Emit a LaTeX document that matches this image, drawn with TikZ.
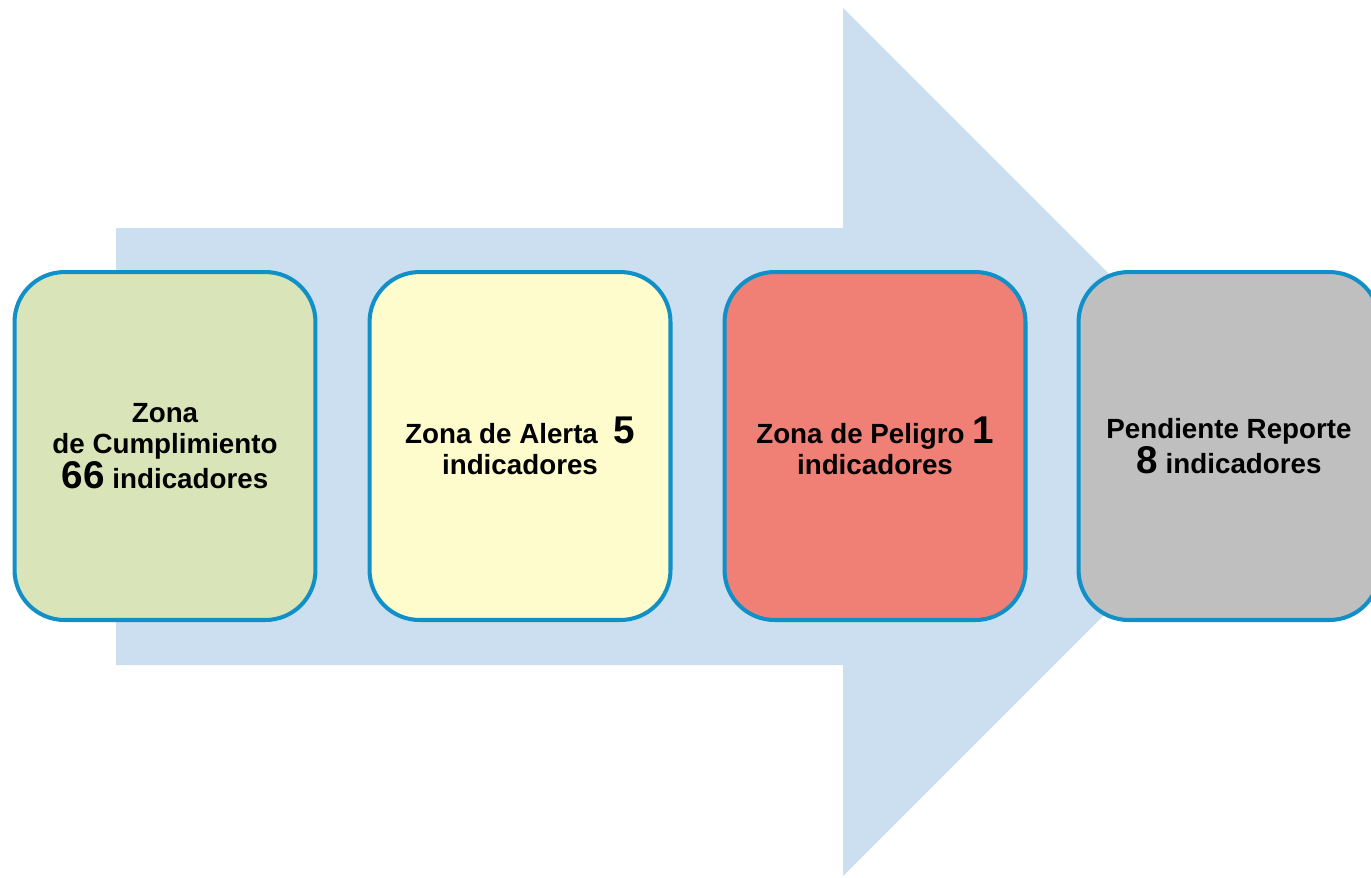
\documentclass[tikz,border=0pt]{standalone}
\usepackage{fontspec}
\setmainfont{Liberation Sans}
\definecolor{flecha}{HTML}{CBDFF0}
\definecolor{borde}{HTML}{1190C8}
\definecolor{verde}{HTML}{D9E5B9}
\definecolor{amarillo}{HTML}{FEFCCC}
\definecolor{rojo}{HTML}{F07F76}
\definecolor{gris}{HTML}{BFBFBF}
\tikzset{
	zona/.style={draw=borde, line width=2.3pt, rounded corners=1cm,
		minimum width=6.02cm, minimum height=6.96cm, align=center,
		font=\fontsize{15.8}{17.5}\selectfont\bfseries},
}
\newcommand{\cifra}[1]{{\fontsize{22}{22}\selectfont #1}}
\begin{document}
\begin{tikzpicture}[x=0.02cm,y=-0.02cm]
		\useasboundingbox (0,0) rectangle (1371,877);
		\clip (0,0) rectangle (1371,877);
		\fill[flecha] (116,228) -- (843,228) -- (843,8) -- (1277,442) -- (843,876) -- (843,665) -- (116,665) -- cycle;
		\node[zona, fill=verde] (cumple) at (165,446) {Zona\\de Cumplimiento\\\cifra{66} indicadores};
		\node[zona, fill=amarillo] (alerta) at (520,446) {Zona de Alerta~~\cifra{5}\\indicadores};
		\node[zona, fill=rojo] (peligro) at (875,446) {Zona de Peligro \cifra{1}\\indicadores};
		\node[zona, fill=gris] (pendiente) at (1229,446) {Pendiente Reporte\\\cifra{8}~indicadores};
	\end{tikzpicture}
\end{document}
